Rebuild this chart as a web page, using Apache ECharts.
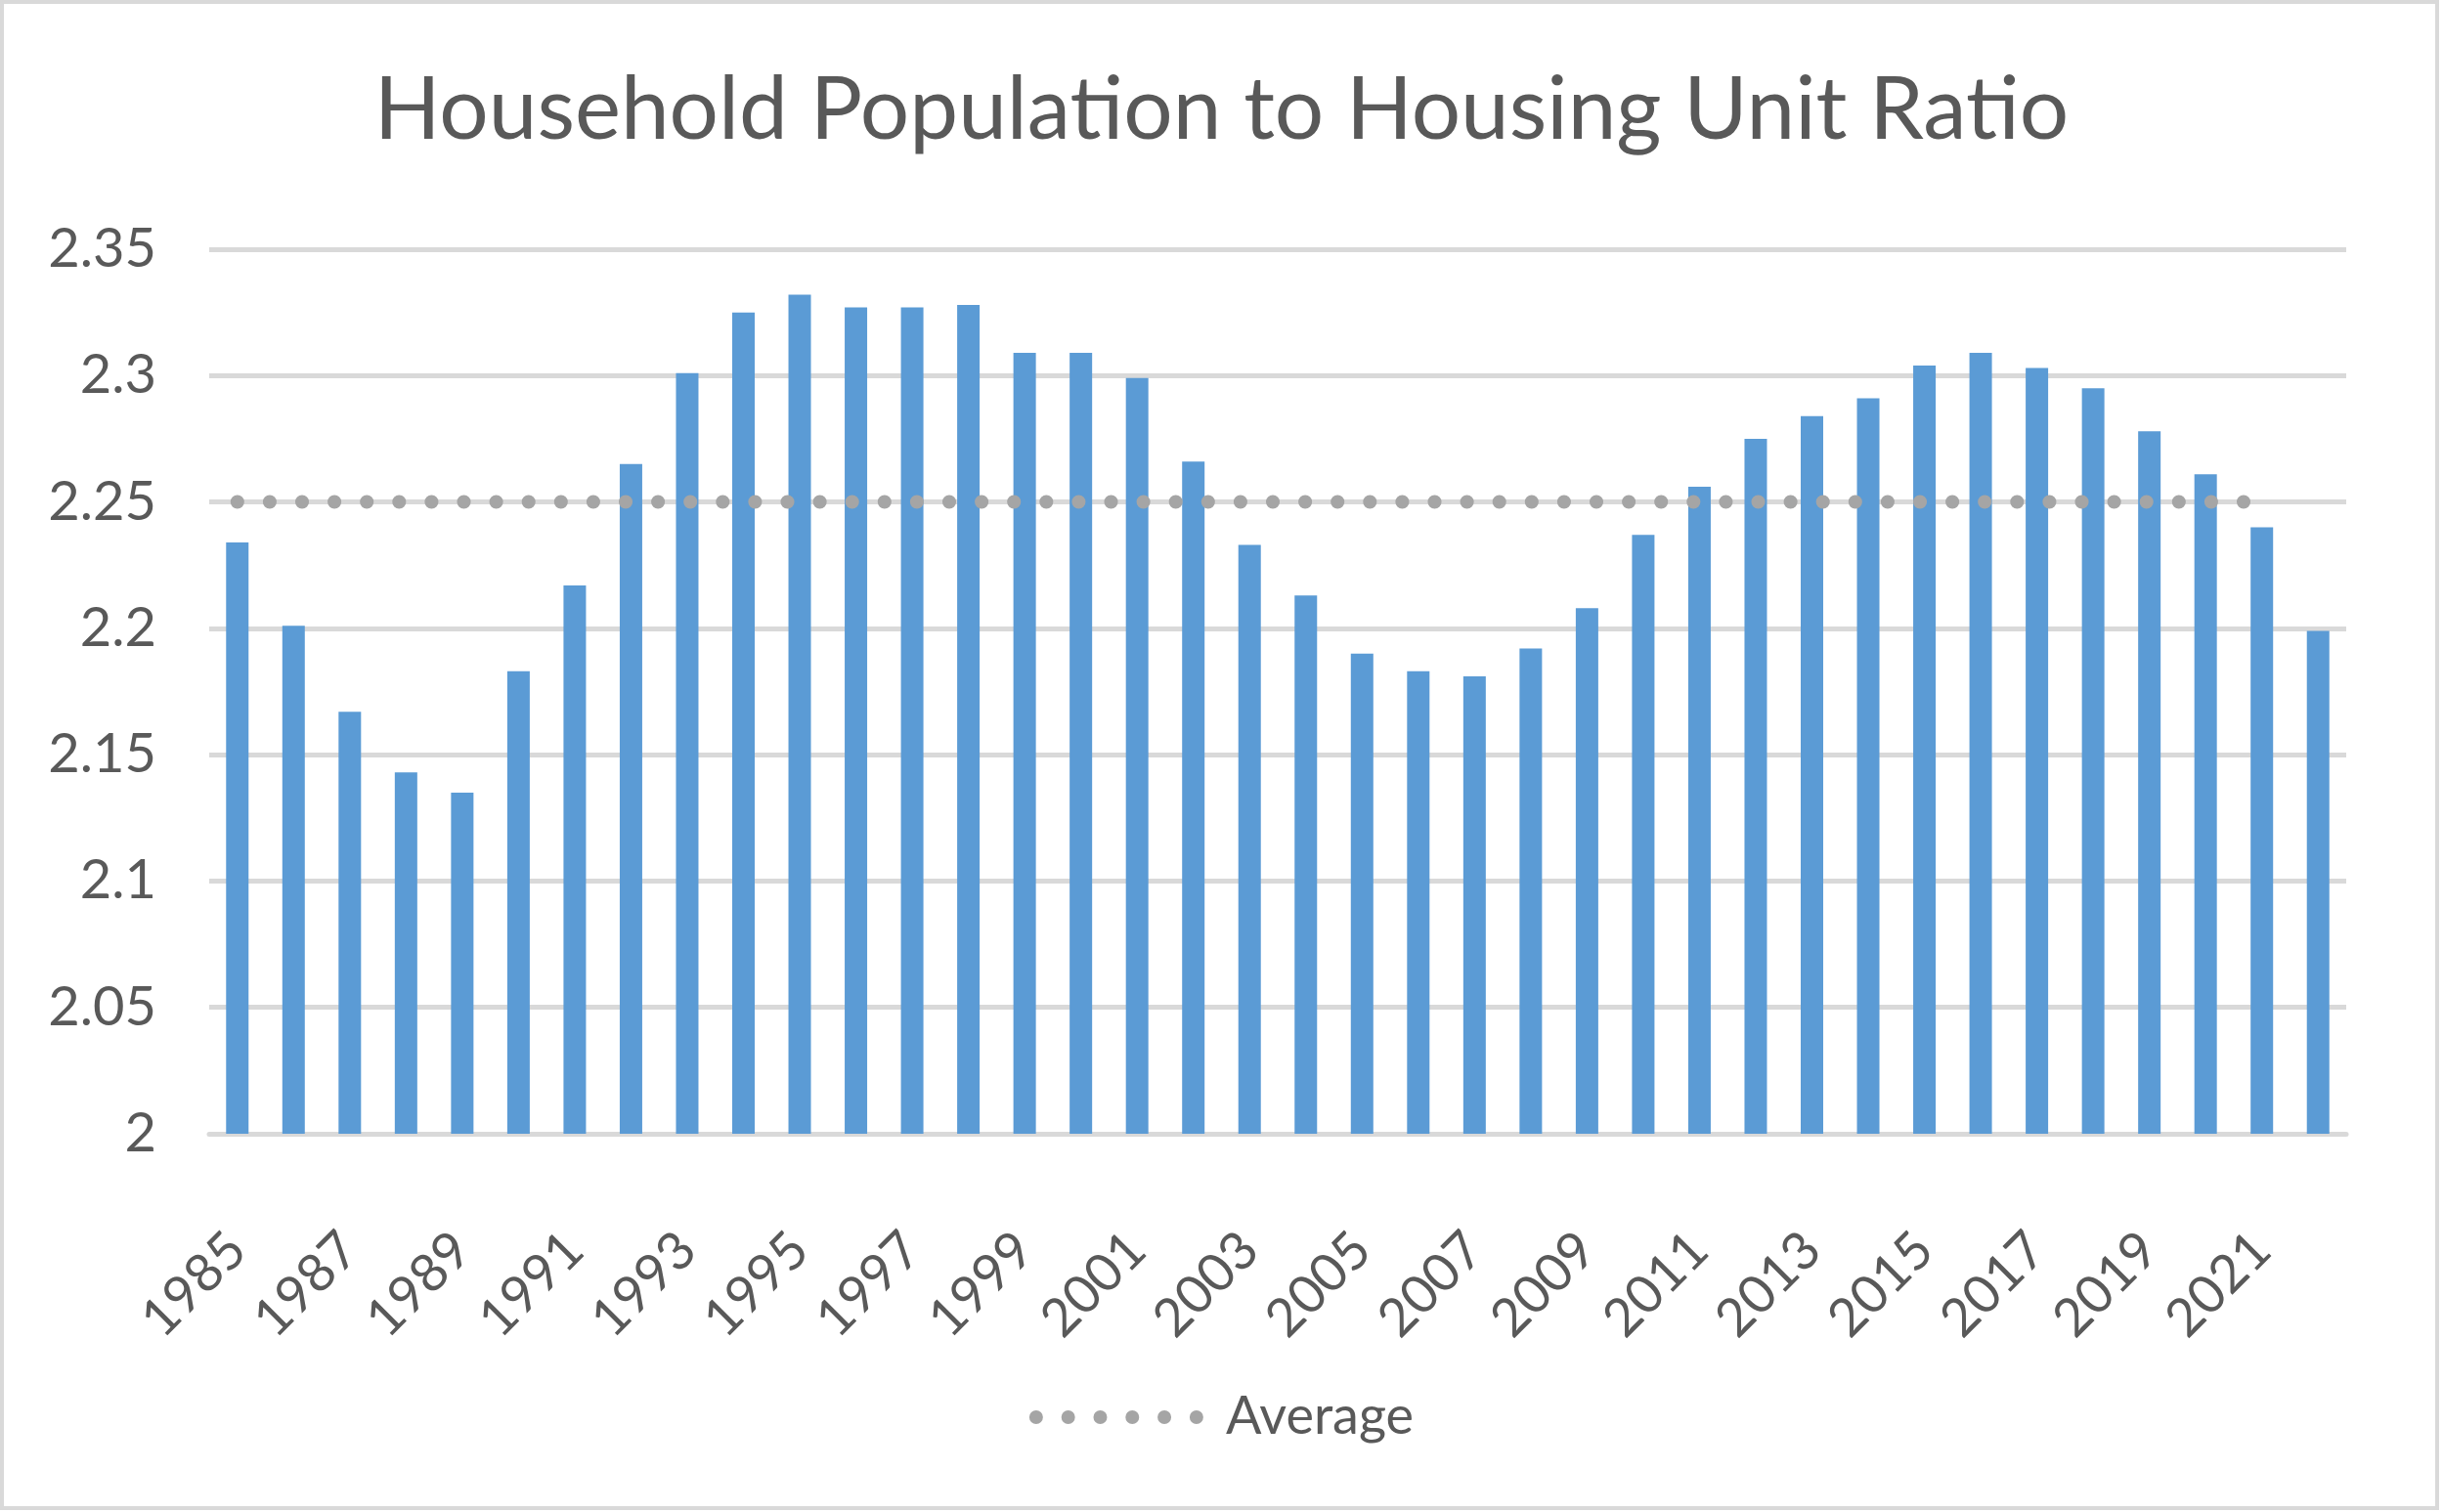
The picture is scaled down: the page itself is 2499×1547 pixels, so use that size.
<!DOCTYPE html>
<html>
<head>
<meta charset="utf-8">
<script src="https://cdn.jsdelivr.net/npm/echarts@6/dist/echarts.min.js"></script>
<style>
  html, body {margin: 0; padding: 0; background: #fff;}
  #main {width: 2499px; height: 1547px;}
</style>
</head>
<body>
<div id="main"></div>
<script>
let years = [];
for (let y = 1985; y <= 2022; y++) years.push(String(y));

// ratio per year
let ratio = [
    2.234, 2.201, 2.167, 2.143, 2.135, 2.183, 2.217, 2.265, 2.301, 2.325,
    2.332, 2.327, 2.327, 2.328, 2.309, 2.309, 2.299, 2.266, 2.233, 2.213,
    2.190, 2.183, 2.181, 2.192, 2.208, 2.237, 2.256, 2.275, 2.284, 2.291,
    2.304, 2.309, 2.303, 2.295, 2.278, 2.261, 2.240, 2.199
];
// average line stops at 2021
let average = [
    2.25, 2.25, 2.25, 2.25, 2.25, 2.25, 2.25, 2.25, 2.25, 2.25,
    2.25, 2.25, 2.25, 2.25, 2.25, 2.25, 2.25, 2.25, 2.25, 2.25,
    2.25, 2.25, 2.25, 2.25, 2.25, 2.25, 2.25, 2.25, 2.25, 2.25,
    2.25, 2.25, 2.25, 2.25, 2.25, 2.25, 2.25, '-'
];

let font = 'Lato';
let textColor = '#595959';
let gridColor = '#D9D9D9';

// six dots for the legend icon, 178 x 14 box
let dots = '';
for (let i = 0; i < 6; i++) {
    let cx = 7 + i * 32.8;
    dots += 'M' + (cx - 7) + ',7 a7,7 0 1,0 14,0 a7,7 0 1,0 -14,0 ';
}

let chart = echarts.init(document.getElementById('main'));
chart.setOption({
    animation: false,
    backgroundColor: '#fff',
    title: {
        text: 'Household Population to Housing Unit Ratio',
        left: 'center',
        top: 64,
        textStyle: {fontFamily: font, fontSize: 89, fontWeight: 'normal', color: textColor}
    },
    legend: {
        data: ['Average'],
        left: 'center',
        top: 1418,
        icon: 'path://' + dots,
        itemWidth: 178,
        itemHeight: 14,
        textStyle: {fontFamily: font, fontSize: 54, color: textColor, padding: [0, 0, 0, 18]}
    },
    graphic: [{
        type: 'rect',
        shape: {x: 2, y: 2, width: 2491, height: 1541},
        style: {fill: 'none', stroke: gridColor, lineWidth: 4},
        silent: true
    }],
    grid: {left: 214, right: 99, top: 255, bottom: 387, outerBoundsMode: 'none'},
    xAxis: {
        type: 'category',
        data: years,
        axisTick: {show: false},
        axisLine: {lineStyle: {color: gridColor, width: 5}},
        axisLabel: {
            interval: 1,
            rotate: 45,
            margin: 110,
            fontFamily: font,
            fontSize: 54,
            color: textColor
        }
    },
    yAxis: {
        type: 'value',
        min: 2,
        max: 2.35,
        interval: 0.05,
        axisLine: {show: false},
        axisTick: {show: false},
        splitLine: {lineStyle: {color: gridColor, width: 5}},
        axisLabel: {
            margin: 54,
            fontFamily: font,
            fontSize: 56,
            color: textColor,
            formatter: v => String(+v.toFixed(2))
        }
    },
    series: [
        {
            name: 'Ratio',
            type: 'bar',
            data: ratio,
            barWidth: 23,
            itemStyle: {color: '#5B9BD5'}
        },
        {
            name: 'Average',
            type: 'line',
            data: average,
            symbol: 'none',
            z: 3,
            lineStyle: {color: '#A5A5A5', width: 14, type: [0.1, 33], cap: 'round'},
            itemStyle: {color: '#A5A5A5'}
        }
    ]
});
</script>
</body>
</html>
